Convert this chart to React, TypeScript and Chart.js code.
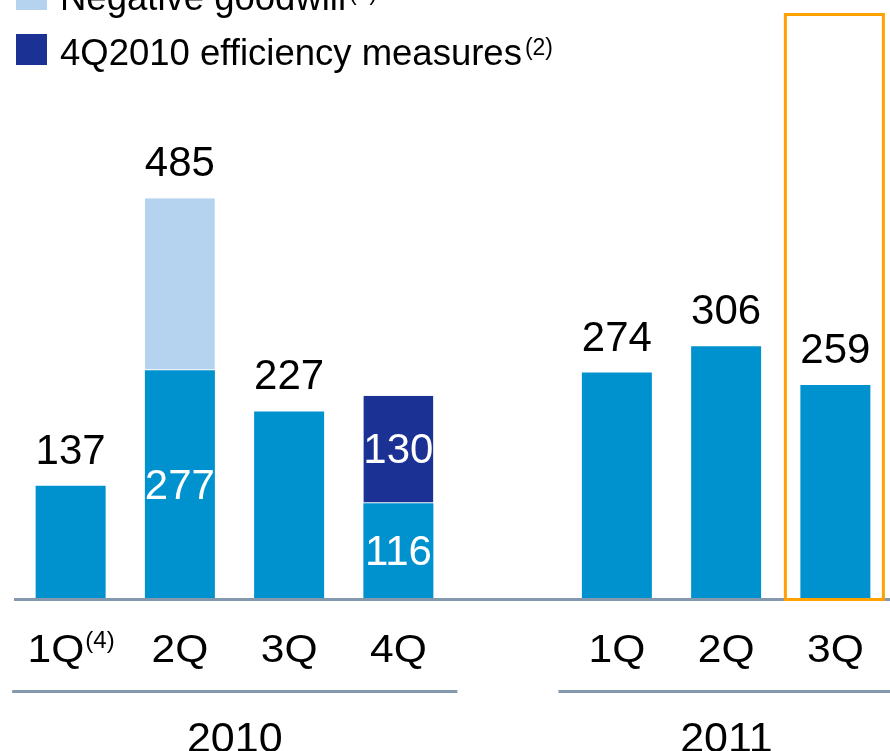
import React, { useEffect, useRef } from "react";
import { Chart, registerables } from "chart.js";

Chart.register(...registerables);

// ---- data ----
const categories = ["1Q", "2Q", "3Q", "4Q", "", "1Q", "2Q", "3Q"];
const categoryNotes = ["(4)", "", "", "", "", "", "", ""];
const baseValues = [137, 277, 227, 116, null, 274, 306, 259];
const negativeGoodwill = [null, 208, null, null, null, null, null, null];
const efficiencyMeasures = [null, null, null, 130, null, null, null, null];
const years = ["2010", "2011"];
const yearStart = [0, 5];
const yearEnd = [3, 7];
const highlightIndex = 7;
const legendLabels = ["Negative goodwill", "4Q2010 efficiency measures"];
const legendNotes = ["(1)", "(2)"];

// ---- styles ----
const BLUE = "#0092CF";
const LIGHT = "#B5D3EF";
const NAVY = "#1B3193";
const AXIS = "#8499AD";
const ORANGE = "#FFA200";
const FONT = '"Liberation Sans", Arial, Helvetica, sans-serif';

function txt(ctx: CanvasRenderingContext2D, s: string, x: number, y: number, size: number, color: string, align: CanvasTextAlign, sx = 1) {
  ctx.save();
  ctx.font = `${size}px ${FONT}`;
  ctx.fillStyle = color;
  ctx.textAlign = align;
  ctx.textBaseline = "alphabetic";
  ctx.translate(x, y);
  ctx.scale(sx, 1);
  ctx.fillText(s, 0, 0);
  ctx.restore();
}

function width(ctx: CanvasRenderingContext2D, s: string, size: number) {
  ctx.save();
  ctx.font = `${size}px ${FONT}`;
  const w = ctx.measureText(s).width;
  ctx.restore();
  return w;
}

const decorPlugin = {
  id: "decor",
  afterDatasetsDraw(chart: any) {
    const ctx: CanvasRenderingContext2D = chart.ctx;
    const xs = chart.scales.x;
    const ys = chart.scales.y;
    const area = chart.chartArea;
    const cat = xs.getPixelForValue(1) - xs.getPixelForValue(0);
    const base = ys.getPixelForValue(0);

    // axis baseline
    ctx.save();
    ctx.strokeStyle = AXIS;
    ctx.lineWidth = 3;
    ctx.beginPath();
    ctx.moveTo(area.left - 2, base + 0.5);
    ctx.lineTo(chart.width, base + 0.5);
    ctx.stroke();
    ctx.restore();

    // value labels
    const VAL = 42;
    for (let i = 0; i < categories.length; i++) {
      const b = baseValues[i];
      if (b == null) continue;
      const g = negativeGoodwill[i];
      const e = efficiencyMeasures[i];
      const cx = xs.getPixelForValue(i);
      const total = b + (g ?? 0) + (e ?? 0);
      if (e == null) {
        txt(ctx, String(total), cx, ys.getPixelForValue(total) - 22, VAL, "#000", "center");
      }
      if (g != null || e != null) {
        const yb = (ys.getPixelForValue(0) + ys.getPixelForValue(b)) / 2;
        txt(ctx, String(b), cx, yb + 14, VAL, "#fff", "center");
      }
      if (e != null) {
        const ye = (ys.getPixelForValue(b) + ys.getPixelForValue(b + e)) / 2;
        txt(ctx, String(e), cx, ye + 14, VAL, "#fff", "center");
      }
    }

    // category labels
    const LBL = 38;
    const SX = 1.12;
    for (let i = 0; i < categories.length; i++) {
      if (!categories[i]) continue;
      const cx = xs.getPixelForValue(i);
      const w1 = width(ctx, categories[i], LBL) * SX;
      const note = categoryNotes[i];
      const w2 = note ? width(ctx, note, 24) : 0;
      const x0 = cx - (w1 + w2) / 2;
      txt(ctx, categories[i], x0, area.bottom + 63, LBL, "#000", "left", SX);
      if (note) txt(ctx, note, x0 + w1 + 1, area.bottom + 49, 24, "#000", "left");
    }

    // year group lines and labels
    for (let k = 0; k < years.length; k++) {
      const x1 = xs.getPixelForValue(yearStart[k]) - 0.535 * cat;
      const x2 = xs.getPixelForValue(yearEnd[k]) + 0.54 * cat;
      ctx.save();
      ctx.strokeStyle = AXIS;
      ctx.lineWidth = 3;
      ctx.beginPath();
      ctx.moveTo(x1, area.bottom + 92.5);
      ctx.lineTo(x2, area.bottom + 92.5);
      ctx.stroke();
      ctx.restore();
      txt(ctx, years[k], (x1 + x2) / 2, area.bottom + 153, 43, "#000", "center");
    }

    // highlight box
    const hx = xs.getPixelForValue(highlightIndex);
    ctx.save();
    ctx.strokeStyle = ORANGE;
    ctx.lineWidth = 3;
    ctx.strokeRect(hx - 50, area.top + 14.5, 98, base + 0.5 - (area.top + 14.5));
    ctx.restore();

    // legend
    const legendColors = [LIGHT, NAVY];
    const baselines = [10, 65];
    const LEG = 36.5;
    for (let k = 0; k < legendLabels.length; k++) {
      const yb = baselines[k];
      ctx.fillStyle = legendColors[k];
      ctx.fillRect(16, yb - 31, 31, 31);
      txt(ctx, legendLabels[k], 60, yb, LEG, "#000", "left");
      const w = width(ctx, legendLabels[k], LEG);
      txt(ctx, legendNotes[k], 60 + w + 3, yb - 10, 23, "#000", "left");
    }
  },
};

export default function App() {
  const ref = useRef<HTMLCanvasElement>(null);
  useEffect(() => {
    const chart = new Chart(ref.current as HTMLCanvasElement, {
      type: "bar",
      data: {
        labels: categories,
        datasets: [
          {
            label: "Net income",
            data: baseValues,
            backgroundColor: BLUE,
            borderWidth: 0,
          },
          {
            label: legendLabels[0],
            data: negativeGoodwill,
            backgroundColor: LIGHT,
            borderColor: "#ffffff",
            borderWidth: { top: 0, left: 0, right: 0, bottom: 1 },
            borderSkipped: false,
          },
          {
            label: legendLabels[1],
            data: efficiencyMeasures,
            backgroundColor: NAVY,
            borderColor: "#ffffff",
            borderWidth: { top: 0, left: 0, right: 0, bottom: 1 },
            borderSkipped: false,
          },
        ] as any,
      },
      options: {
        animation: false,
        responsive: false,
        devicePixelRatio: 1,
        layout: { padding: { left: 16, right: 0, top: 0, bottom: 152 } },
        datasets: { bar: { barPercentage: 0.6407, categoryPercentage: 1 } },
        scales: {
          x: { stacked: true, display: false },
          y: { stacked: true, display: false, min: 0, max: 725 },
        },
        plugins: {
          legend: { display: false },
          tooltip: { enabled: false },
        },
      },
      plugins: [decorPlugin],
    });
    return () => chart.destroy();
  }, []);
  return (
    <div style={{ position: "absolute", left: 0, top: 0, width: 890, height: 751, background: "#fff", overflow: "hidden" }}>
      <canvas ref={ref} width={890} height={751} style={{ display: "block", width: 890, height: 751 }} />
    </div>
  );
}
